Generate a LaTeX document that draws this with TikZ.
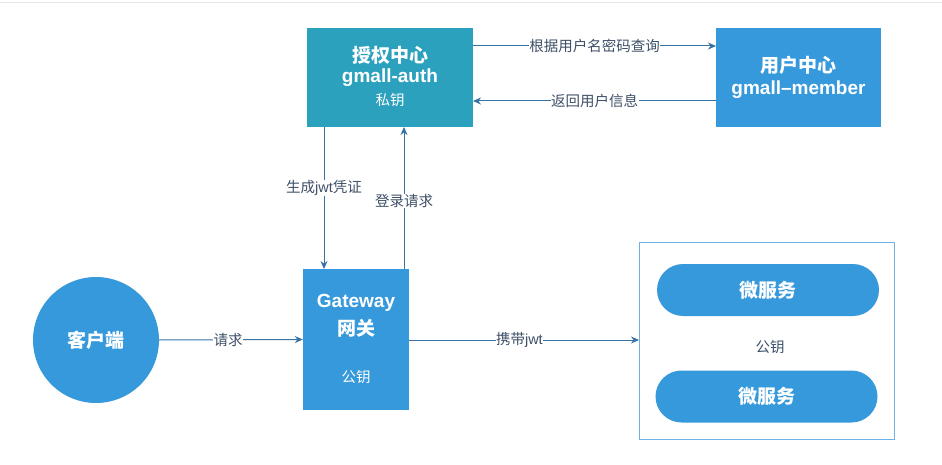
\documentclass[tikz,border=0pt]{standalone}
\usepackage{fontspec}
\setmainfont{Noto Sans CJK SC}
\newfontfamily\lat{Liberation Sans}
\usetikzlibrary{arrows.meta,shapes.misc}
\definecolor{teal1}{HTML}{2CA1BE}
\definecolor{blue1}{HTML}{3699DB}
\definecolor{line1}{HTML}{3672A4}
\definecolor{lbl}{HTML}{3E5068}
\definecolor{frame1}{HTML}{6FB1E4}
\begin{document}
\begin{tikzpicture}[x=1pt,y=-1pt,
  conn/.style={draw=line1,line width=1pt,-{Stealth[length=8pt,width=7pt]}},
  lab/.style={fill=white,text=lbl,font=\fontsize{14.5}{16}\selectfont,inner sep=0.5pt},
  head/.style={text=white,font=\fontsize{19}{21}\selectfont\bfseries,inner sep=0pt},
  sub/.style={text=white,font=\fontsize{14.5}{16}\selectfont,inner sep=0pt},
  pill/.style={rounded rectangle,fill=blue1,text=white,minimum width=222pt,minimum height=52pt,inner sep=0pt,font=\fontsize{19}{21}\selectfont\bfseries}]
\useasboundingbox (0,0) rectangle (942,465);
\draw[draw=gray!20,line width=1pt] (0,3) -- (942,3);
% boxes
\node[fill=teal1,minimum width=166pt,minimum height=99pt,inner sep=0pt] (auth) at (390,77.5) {};
\node[head] (authT) at (390,55) {授权中心};
\node[head] (authN) at (390,78) {\lat\bfseries gmall-auth};
\node[sub] (authK) at (390,100) {私钥};
\node[fill=blue1,minimum width=165pt,minimum height=99pt,inner sep=0pt] (member) at (798.5,77.5) {};
\node[head] (memT) at (798.5,65) {用户中心};
\node[head] (memN) at (798.5,90) {\lat\bfseries gmall\textendash member};
\node[fill=blue1,minimum width=106pt,minimum height=141pt,inner sep=0pt] (gw) at (356,339.5) {};
\node[head] (gwT) at (356,303) {\lat\bfseries Gateway};
\node[head] (gwN) at (356,328) {网关};
\node[sub] (gwK) at (356,377) {公钥};
\node[circle,fill=blue1,minimum size=126pt,inner sep=0pt,text=white,font=\fontsize{19}{21}\selectfont\bfseries] (client) at (96,340) {客户端};
\node[draw=frame1,line width=1pt,minimum width=255pt,minimum height=197pt,inner sep=0pt] (ms) at (766.5,340.5) {};
\node[pill] (ms1) at (768,290) {微服务};
\node[pill] (ms2) at (766.5,396.5) {微服务};
\node[text=lbl,font=\fontsize{14.5}{16}\selectfont,inner sep=0pt] (pk) at (770,347) {公钥};
% connectors
\coordinate (a1) at (473,46); \coordinate (m1) at (716,46);
\draw[conn] (a1) -- node[lab,pos=0.5]{根据用户名密码查询} (m1);
\coordinate (m2) at (716,101); \coordinate (a2) at (473,101);
\draw[conn] (m2) -- node[lab,pos=0.5]{返回用户信息} (a2);
\coordinate (a3) at (324,127); \coordinate (g3) at (324,269);
\draw[conn] (a3) -- node[lab,pos=0.43]{生成{\lat jwt}凭证} (g3);
\coordinate (g4) at (404,269); \coordinate (a4) at (404,127);
\draw[conn] (g4) -- node[lab,pos=0.48]{登录请求} (a4);
\draw[conn] (client.east) -- node[lab,pos=0.48]{请求} (gw.west);
\coordinate (g5) at (409,340); \coordinate (s5) at (639,340);
\draw[conn] (g5) -- node[lab,pos=0.48]{携带{\lat jwt}} (s5);
\end{tikzpicture}
\end{document}
